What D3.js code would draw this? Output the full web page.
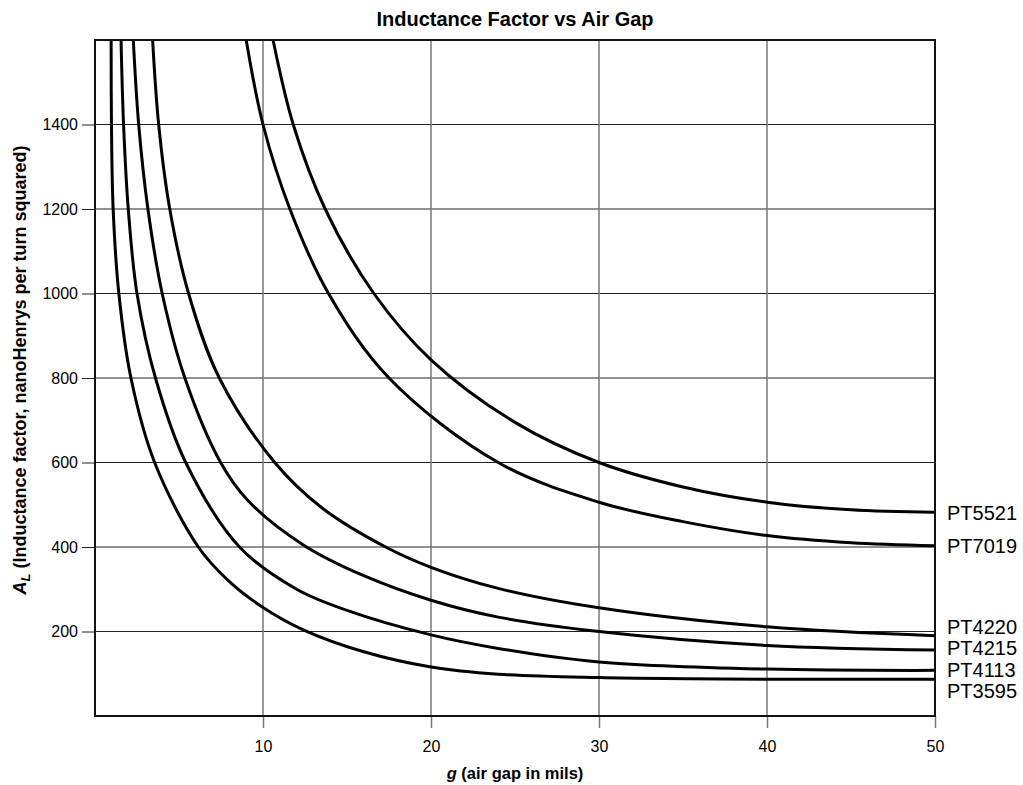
<!DOCTYPE html>
<html>
<head>
<meta charset="utf-8">
<script src="https://cdn.jsdelivr.net/npm/d3@7"></script>
<style>
  body { margin: 0; background: #fff; }
  svg { font-family: "Liberation Sans", Arial, Helvetica, sans-serif; }
</style>
</head>
<body>
<div class="svg-container"></div>
<script>
// Data (g in mils, A_L in nH/turn^2)
var seriesNames = ["PT5521", "PT7019", "PT4220", "PT4215", "PT4113", "PT3595"];

var gapPT5521 = [10.6, 11.8, 13.7, 16.6, 20, 25, 30, 35, 40, 45, 50];
var alPT5521  = [1600, 1400, 1200, 1000, 843, 695, 600, 542, 506, 488, 482];

var gapPT7019 = [9.0, 10.0, 11.6, 13.9, 17.5, 24, 30, 35, 40, 45, 50];
var alPT7019  = [1600, 1400, 1200, 1000, 800, 600, 506, 460, 427, 410, 403];

var gapPT4220 = [3.43, 3.79, 4.45, 5.57, 7.4, 10.7, 13.5, 17.3, 20, 24, 30, 40, 50];
var alPT4220  = [1600, 1400, 1200, 1000, 800, 600, 493, 400, 352, 302, 256, 211, 190];

var gapPT4215 = [2.28, 2.6, 3.15, 4.0, 5.35, 7.48, 9.1, 12.4, 16, 20, 24, 30, 40, 50];
var alPT4215  = [1600, 1400, 1200, 1000, 800, 600, 510, 405, 332, 274, 234, 200, 167, 156];

var gapPT4113 = [1.55, 1.7, 1.98, 2.5, 3.6, 5.4, 8.6, 12, 15, 20, 24, 30, 40, 50];
var alPT4113  = [1600, 1400, 1200, 1000, 800, 600, 400, 300, 250, 192, 160, 128, 111, 108];

var gapPT3595 = [0.96, 0.98, 1.08, 1.42, 2.14, 3.55, 6.15, 8, 10, 12.4, 16, 20, 24, 30, 40, 50];
var alPT3595  = [1600, 1400, 1200, 1000, 800, 600, 400, 318, 257, 204, 152, 116, 99, 91, 87, 87];

var seriesGaps = [gapPT5521, gapPT7019, gapPT4220, gapPT4215, gapPT4113, gapPT3595];
var seriesVals = [alPT5521, alPT7019, alPT4220, alPT4215, alPT4113, alPT3595];

var xTicks = [10, 20, 30, 40, 50];
var yTicks = [200, 400, 600, 800, 1000, 1200, 1400];

var margin = {top: 40, right: 88, bottom: 69, left: 95},
    width = 1023 - margin.left - margin.right,
    height = 785 - margin.top - margin.bottom;

var svg = d3.select(".svg-container").append("svg")
    .attr("width", 1023)
    .attr("height", 785);

var g = svg.append("g")
    .attr("transform", "translate(" + margin.left + "," + margin.top + ")");

// Scales
var xScale = d3.scaleLinear().domain([0, 50]).range([0, width]);
var yScale = d3.scaleLinear().domain([0, 1600]).range([height, 0]);

// Build series table
var series = seriesNames.map(function(name, i) {
    return {
        name: name,
        points: seriesGaps[i].map(function(x, j) { return {g: x, al: seriesVals[i][j]}; })
    };
});

// Grid lines
g.append("g").selectAll("line")
    .data(yTicks)
    .enter().append("line")
    .attr("x1", 0).attr("x2", width)
    .attr("y1", function(d) { return yScale(d); })
    .attr("y2", function(d) { return yScale(d); })
    .style("stroke", "#222")
    .style("stroke-width", 1);

g.append("g").selectAll("line")
    .data(xTicks.slice(0, -1))
    .enter().append("line")
    .attr("y1", 0).attr("y2", height)
    .attr("x1", function(d) { return xScale(d); })
    .attr("x2", function(d) { return xScale(d); })
    .style("stroke", "#777")
    .style("stroke-width", 1.5);

// Axes
var xAxis = d3.axisBottom(xScale)
    .tickValues(xTicks)
    .tickSize(12)
    .tickSizeOuter(0)
    .tickPadding(13)
    .tickFormat(d3.format("d"));

var yAxis = d3.axisLeft(yScale)
    .tickValues(yTicks)
    .tickSize(13)
    .tickSizeOuter(0)
    .tickPadding(4)
    .tickFormat(d3.format("d"));

var gx = g.append("g")
    .attr("transform", "translate(0," + height + ")")
    .call(xAxis);
gx.select(".domain").remove();
gx.selectAll(".tick line").style("stroke", "#777").style("stroke-width", 1.5);
gx.selectAll(".tick text").style("font-size", "16px").style("fill", "#000");

var gy = g.append("g").call(yAxis);
gy.select(".domain").remove();
gy.selectAll(".tick line").style("stroke", "#222").style("stroke-width", 1);
gy.selectAll(".tick text").style("font-size", "16px").style("fill", "#000");

// Curves
g.append("clipPath").attr("id", "plot-clip")
    .append("rect").attr("width", width).attr("height", height);

var line = d3.line()
    .curve(d3.curveCatmullRom.alpha(0.5))
    .x(function(d) { return xScale(d.g); })
    .y(function(d) { return yScale(d.al); });

g.append("g")
    .attr("clip-path", "url(#plot-clip)")
    .selectAll("path")
    .data(series)
    .enter().append("path")
    .attr("d", function(d) { return line(d.points); })
    .style("fill", "none")
    .style("stroke", "#000")
    .style("stroke-width", 3);

// Frame
g.append("rect")
    .attr("width", width)
    .attr("height", height)
    .style("fill", "none")
    .style("stroke", "#111")
    .style("stroke-width", 2);

// End labels, spread so they don't overlap
var labels = series.map(function(s) {
    var last = s.points[s.points.length - 1];
    return {name: s.name, y: yScale(last.al)};
}).sort(function(a, b) { return a.y - b.y; });

var minGap = 21.5;
for (var k = 0; k < 60; k++) {
    for (var i = 1; i < labels.length; i++) {
        var diff = labels[i].y - labels[i - 1].y;
        if (diff < minGap) {
            var push = (minGap - diff) / 2;
            labels[i - 1].y -= push;
            labels[i].y += push;
        }
    }
}

g.append("g").selectAll("text")
    .data(labels)
    .enter().append("text")
    .attr("x", width + 12)
    .attr("y", function(d) { return d.y; })
    .attr("dy", "0.36em")
    .style("font-size", "20px")
    .text(function(d) { return d.name; });

// Title
svg.append("text")
    .attr("x", margin.left + width / 2)
    .attr("y", 26)
    .attr("text-anchor", "middle")
    .style("font-size", "20px")
    .style("font-weight", "bold")
    .text("Inductance Factor vs Air Gap");

// X axis title
var xt = svg.append("text")
    .attr("x", margin.left + width / 2)
    .attr("y", 779)
    .attr("text-anchor", "middle")
    .style("font-size", "16.5px")
    .style("font-weight", "bold");
xt.append("tspan").style("font-style", "italic").text("g");
xt.append("tspan").text(" (air gap in mils)");

// Y axis title
var yt = svg.append("text")
    .attr("transform", "translate(26,370) rotate(-90)")
    .attr("text-anchor", "middle")
    .style("font-size", "18px")
    .style("font-weight", "bold");
yt.append("tspan").style("font-style", "italic").text("A");
yt.append("tspan").style("font-style", "italic").style("font-size", "13px")
    .attr("dy", "4").text("L");
yt.append("tspan").attr("dy", "-4")
    .text(" (Inductance factor, nanoHenrys per turn squared)");
</script>
</body>
</html>
